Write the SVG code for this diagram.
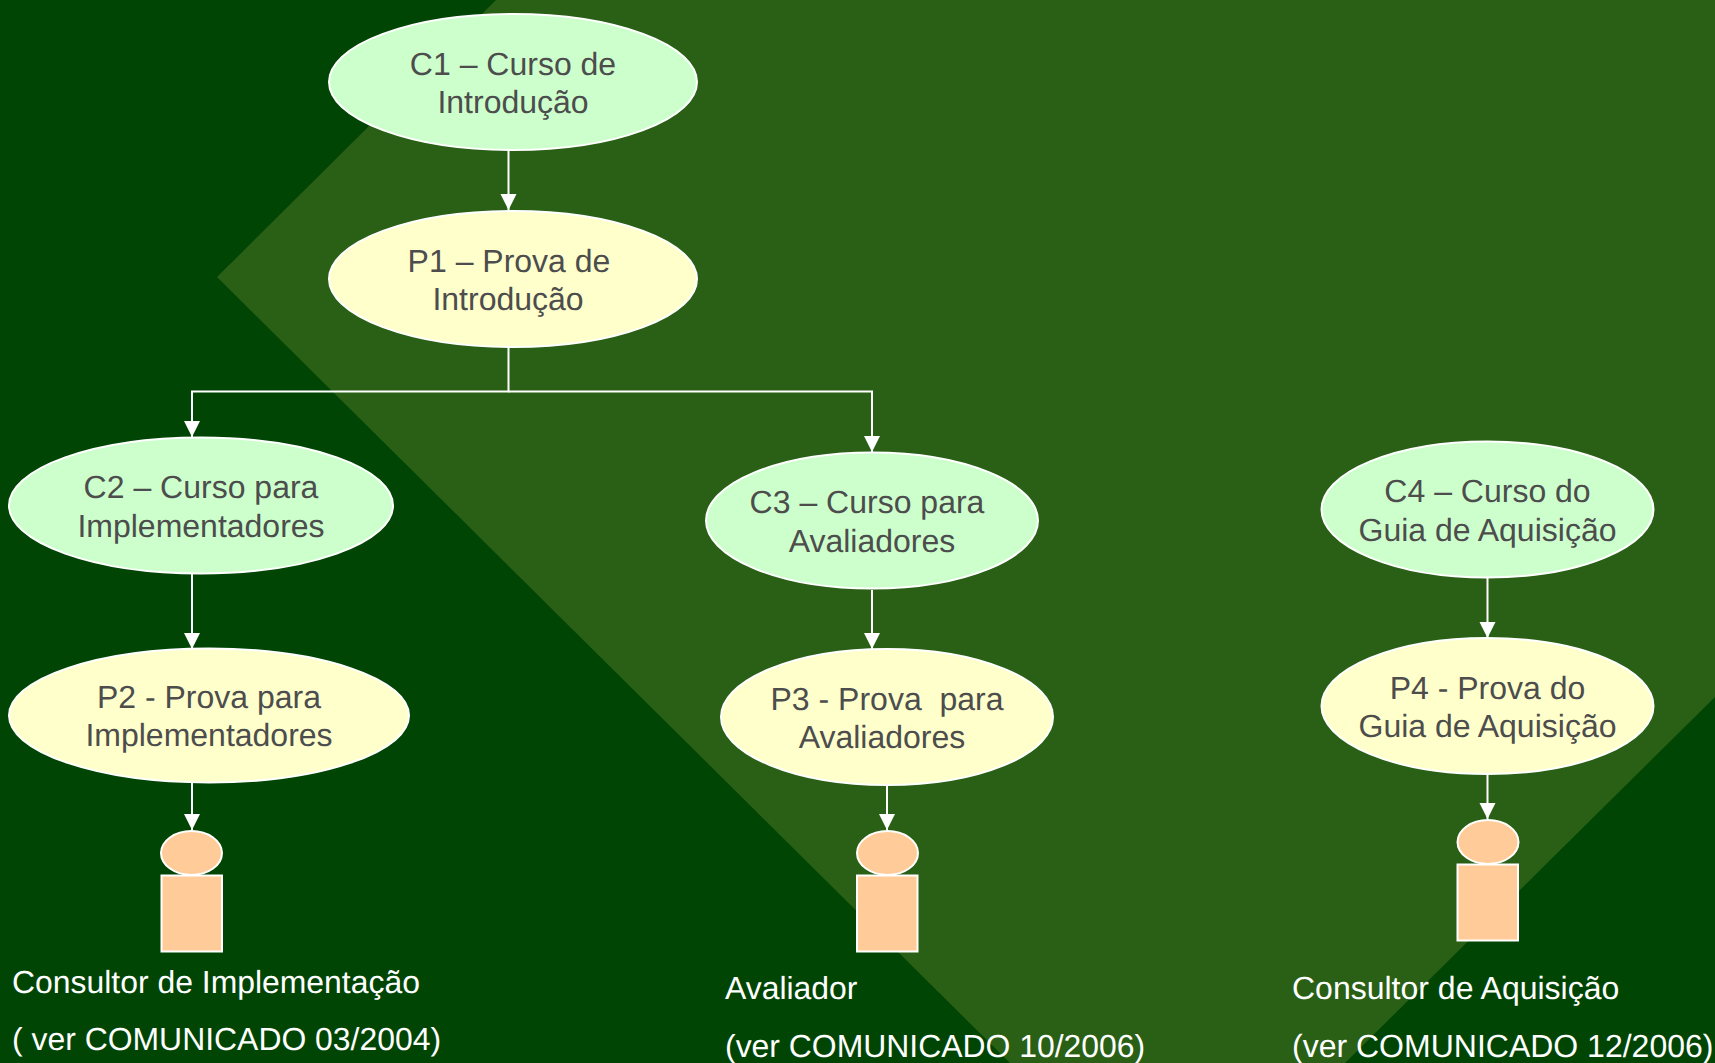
<svg xmlns="http://www.w3.org/2000/svg" width="1715" height="1063" viewBox="0 0 1715 1063">
<style>
text{font-family:"Liberation Sans",Arial,sans-serif;font-size:32px;text-rendering:geometricPrecision;white-space:pre}
.n{fill:#4d4d4d;text-anchor:middle}
.w{fill:#fff}
.s{font-size:31.920px}
.c{fill:#ccffcc;stroke:#fff;stroke-width:2}
.p{fill:#ffffcc;stroke:#fff;stroke-width:2}
.f{fill:#ffcc99;stroke:#fff;stroke-width:2}
.l{fill:none;stroke:#fff;stroke-width:2}
</style>
<defs><marker id="a" markerUnits="userSpaceOnUse" markerWidth="17" markerHeight="17" refX="16" refY="8" orient="auto"><path d="M0 0L16 8L0 16Z" fill="#fff"/></marker></defs>
<rect id="bg" width="1715" height="1063" fill="#004503"/>
<path id="bg2" d="M496 0H1715V697L1345 1063H1010L217 277Z" fill="#296016"/>
<g id="connectors">
<path class="l" d="M508.500 150V210" marker-end="url(#a)"/>
<path class="l" d="M508.500 347V391.500H192V437" marker-end="url(#a)"/>
<path class="l" d="M508.500 391.500H872V452" marker-end="url(#a)"/>
<path class="l" d="M192 574V649" marker-end="url(#a)"/>
<path class="l" d="M872 590V649" marker-end="url(#a)"/>
<path class="l" d="M1487.500 578V638" marker-end="url(#a)"/>
<path class="l" d="M192 783V830" marker-end="url(#a)"/>
<path class="l" d="M887 786V830" marker-end="url(#a)"/>
<path class="l" d="M1487.500 775V819" marker-end="url(#a)"/>
</g>
<g id="c1"><ellipse class="c" cx="513" cy="82" rx="184" ry="68"/><text class="n" x="513" y="75">C1 – Curso de</text><text class="n" x="513" y="113">Introdução</text></g>
<g id="p1"><ellipse class="p" cx="513" cy="279" rx="184" ry="68"/><text class="n" x="509" y="272">P1 – Prova de</text><text class="n" x="508" y="310">Introdução</text></g>
<g id="c2"><ellipse class="c" cx="201" cy="505.500" rx="192" ry="68"/><text class="n" x="201" y="498">C2 – Curso para</text><text class="n" x="201" y="537">Implementadores</text></g>
<g id="c3"><ellipse class="c" cx="872" cy="520.500" rx="166" ry="68"/><text class="n" x="867" y="513">C3 – Curso para</text><text class="n" x="872" y="552">Avaliadores</text></g>
<g id="c4"><ellipse class="c" cx="1487.500" cy="509.500" rx="166" ry="68"/><text class="n" x="1487.500" y="502">C4 – Curso do</text><text class="n" x="1487.500" y="541">Guia de Aquisição</text></g>
<g id="p2"><ellipse class="p" cx="209" cy="715.500" rx="200" ry="67"/><text class="n" x="209" y="708">P2 - Prova para</text><text class="n" x="209" y="746">Implementadores</text></g>
<g id="p3"><ellipse class="p" cx="887" cy="717" rx="166" ry="68"/><text class="n" x="887" y="710">P3 - Prova  para</text><text class="n" x="882" y="748">Avaliadores</text></g>
<g id="p4"><ellipse class="p" cx="1487.500" cy="706" rx="166" ry="68"/><text class="n" x="1487.500" y="699">P4 - Prova do</text><text class="n" x="1487.500" y="737">Guia de Aquisição</text></g>
<g id="person1"><ellipse class="f" cx="191.500" cy="853" rx="30.500" ry="22"/><rect class="f" x="161.500" y="875.500" width="60.500" height="76"/></g>
<g id="person2"><ellipse class="f" cx="887.500" cy="853" rx="30.500" ry="22"/><rect class="f" x="857" y="875.500" width="60.500" height="76"/></g>
<g id="person3"><ellipse class="f" cx="1488" cy="842" rx="30.500" ry="22"/><rect class="f" x="1457.500" y="864.500" width="60.500" height="76"/></g>
<g id="label1"><text class="w s" x="12" y="993">Consultor de Implementação</text><text class="w s" x="12" y="1050">( ver COMUNICADO 03/2004)</text></g>
<g id="label2"><text class="w s" x="725" y="999">Avaliador</text><text class="w s" x="725" y="1057">(ver COMUNICADO 10/2006)</text></g>
<g id="label3"><text class="w" x="1292" y="999">Consultor de Aquisição</text><text class="w" x="1292" y="1057">(ver COMUNICADO 12/2006)</text></g>
</svg>
